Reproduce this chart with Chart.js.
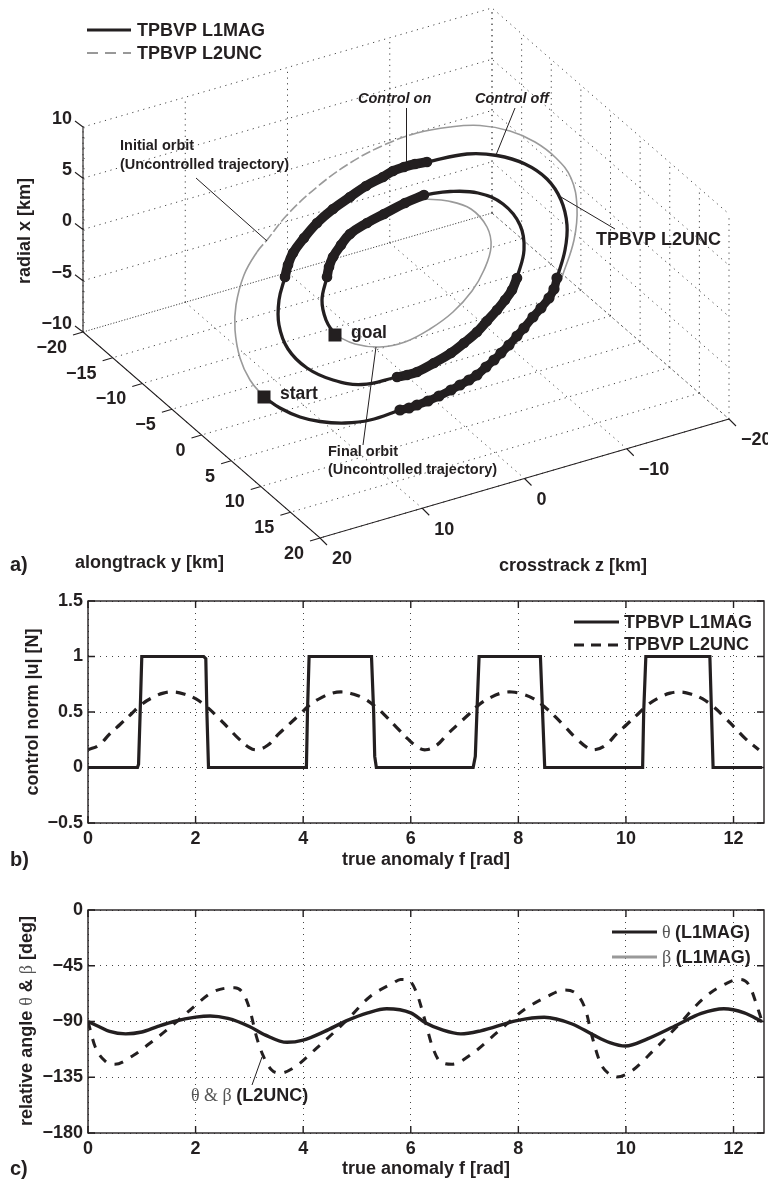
<!DOCTYPE html>
<html>
<head>
<meta charset="utf-8">
<title>Relative orbit transfer</title>
<script src="https://cdn.jsdelivr.net/npm/chart.js@4"></script>
<style>
  html, body { margin: 0; padding: 0; background: #fff; overflow: hidden; }
  canvas { position: absolute; left: 0; }
</style>
</head>
<body>
<canvas id="orbit" width="768" height="590" style="top:0"></canvas>
<canvas id="control" width="768" height="290" style="top:590px"></canvas>
<canvas id="angle" width="768" height="302" style="top:880px"></canvas>
<script>
/* ═══════════════════════════════════════════════════════════
   DATA - all values
   ═══════════════════════════════════════════════════════════ */

// Panel a axes
const radialTicks = [10, 5, 0, -5, -10];
const alongTicks = [-20, -15, -10, -5, 0, 5, 10, 15, 20];
const crossTicks = [20, 10, 0, -10, -20];

// Panel a orbits, as [horizontal, vertical] in the view plane of the 3D box
const initialOrbit = [[264,397],[250,380],[240,358],[235,330],[236,305],[244,275],[257,252],[267,240],[287,215],[317,187],[350,163],[384,145],[417,133],[450,127],[480,125.5],[510,131],[535,142],[556,158],[571,178],[577,207],[574,240],[562,277]];
const initialDashedFrom = 6;
const initialDashedTo = 12;
const finalOrbit = [[335,335],[355,344],[380,347],[405,342],[430,329],[453,312],[472,291],[484,270],[491,247],[487,227],[471,209],[448,201],[424,199]];

const coastStart = [[264,397],[280,408],[300,417],[320,421.5],[345,423],[370,420],[400,410]];
const burnOuterLower = [[400,410],[409,408],[417,405],[428,401],[439,396],[451,390],[460,385],[469,380],[477,375],[486,367],[494,360],[501,353],[509,345],[517,336],[524,328],[533,317],[541,308],[549,298],[554,289],[557,278]];
const coastOuterRight = [[557,278],[565,250],[567,225],[561,200],[547,179],[525,164],[497,155.5],[467,154],[427,162]];
const burnOuterUpper = [[427,162],[415,164],[404,167],[393,171],[383,177],[366,186],[350,197],[333,209],[317,223],[304,238],[293,253],[288,265],[285,277]];
const coastLeft = [[285,277],[279,300],[279,325],[288,349],[307,368],[333,380],[362,384.5],[397,377]];
const burnInnerLower = [[397,377],[407,375],[417,372],[434,363],[451,353],[464,343],[477,332],[487,321],[497,310],[505,300],[512,290],[517,278]];
const coastInnerRight = [[517,278],[524,250],[520,225],[503,204],[478,193],[450,191.5],[424,195]];
const burnInnerUpper = [[424,195],[405,203],[384,214],[367,223],[350,234],[341,245],[333,257],[329,267],[327,277]];
const coastGoal = [[327,277],[322,300],[326,320],[335,335]];
const orbitMarkers = [[264,397],[335,335]];

// Panel b
const controlTicksX = [0, 2, 4, 6, 8, 10, 12];
const l1Anomaly = [0,0.92,0.94,0.97,1.0,2.15,2.19,2.21,2.24,4.06,4.08,4.11,5.27,5.31,5.33,5.36,7.16,7.2,7.23,7.27,8.41,8.45,8.49,10.31,10.33,10.37,11.56,11.59,11.62,12.53];
const l1Control = [0,0,0.03,0.5,1,1,0.98,0.5,0,0,0.5,1,1,0.5,0.1,0,0,0.1,0.5,1,1,0.5,0,0,0.5,1,1,0.5,0,0];
const l2Anomaly = [0,0.2,0.4,0.6,0.8,1,1.2,1.4,1.6,1.8,2,2.2,2.4,2.6,2.8,3,3.14,3.34,3.54,3.74,3.94,4.14,4.34,4.54,4.74,4.94,5.14,5.34,5.54,5.74,5.94,6.14,6.28,6.48,6.68,6.88,7.08,7.28,7.48,7.68,7.88,8.08,8.28,8.48,8.68,8.88,9.08,9.28,9.42,9.62,9.82,10.02,10.22,10.42,10.62,10.82,11.02,11.22,11.42,11.62,11.82,12.02,12.22,12.47];
const l2Control = [0.16,0.2,0.3,0.39,0.48,0.57,0.63,0.67,0.68,0.66,0.62,0.55,0.46,0.36,0.26,0.18,0.16,0.2,0.3,0.39,0.48,0.57,0.63,0.67,0.68,0.66,0.62,0.55,0.46,0.36,0.26,0.18,0.16,0.2,0.3,0.39,0.48,0.57,0.63,0.67,0.68,0.66,0.62,0.55,0.46,0.36,0.26,0.18,0.16,0.2,0.3,0.39,0.48,0.57,0.63,0.67,0.68,0.66,0.62,0.55,0.46,0.36,0.26,0.16];

// Panel c
const thetaAnomaly = [0,0.2,0.4,0.7,1,1.3,1.6,2,2.27,2.6,3,3.3,3.7,4,4.4,4.8,5.2,5.55,6,6.27,6.6,6.93,7.3,7.97,8.48,9,9.4,9.7,9.99,10.4,10.95,11.4,11.82,12.2,12.53];
const thetaL1 = [-90,-94,-98,-100,-98.5,-94,-90,-86.5,-85.5,-87.5,-94,-101,-106.8,-105,-98,-89.5,-83,-79.7,-83,-91,-97,-100,-97.5,-89.3,-86.6,-92,-101,-107,-109.8,-104,-92.8,-83.5,-79.7,-83,-90];
const thetaL2Anomaly = [0,0.13,0.32,0.5,0.84,1.15,1.46,1.9,2.33,2.73,2.88,3.01,3.13,3.26,3.41,3.57,3.82,4.25,4.81,5.24,5.67,5.81,5.97,6.11,6.27,6.4,6.55,6.77,7.11,7.6,8.1,8.53,8.85,9.06,9.25,9.37,9.53,9.71,9.83,10.09,10.52,10.95,11.45,11.88,12.1,12.29,12.47,12.53];
const thetaL2 = [-90,-110,-122,-124.5,-117.5,-107.6,-97,-80.7,-66,-62.7,-67,-80.7,-102,-118,-129,-131.7,-127.5,-111.5,-89,-70,-59,-56,-57,-67,-90,-110,-122.5,-124.5,-117,-99,-80.7,-70,-64.6,-67,-80.7,-102,-124,-133,-134.8,-130.5,-113,-94,-71,-59,-56,-60.7,-82,-90];

const INK = '#231f20';
const SANS = '"Liberation Sans", Arial, sans-serif';
const SERIF = '"Liberation Serif", "Times New Roman", serif';
const BOLD = `bold 18px ${SANS}`;
const NOTE = `bold 14.5px ${SANS}`;
const GREEK = `18px ${SERIF}`;

Chart.defaults.animation = false;
Chart.defaults.devicePixelRatio = 1;
Chart.defaults.color = INK;

/* ═══════════════════════════════════════════════════════════
   HELPERS
   ═══════════════════════════════════════════════════════════ */

function zip(xs, ys) {
  return xs.map((x, i) => ({ x, y: ys[i] }));
}

function pairs(list) {
  return list.map(p => ({ x: p[0], y: p[1] }));
}

function minusSign(value) {
  return String(value).replace('-', '\u2212');
}

/**
 * View-plane position of a point of the 3D box (radial, alongtrack, crosstrack in km)
 */
function project(radial, along, cross) {
  const a = (along + 20) / 40;
  const c = (20 - cross) / 40;
  return {
    x: 83 + a * 237 + c * 409,
    y: 332 + a * 206 - c * 119 - (radial + 10) / 20 * 205,
  };
}

// Several polylines in one dataset, NaN breaks the line
function polylines(lines) {
  const out = [];
  lines.forEach(line => {
    out.push(...line, { x: NaN, y: NaN });
  });
  return out;
}

/**
 * Draw one line of text made of runs with different fonts
 */
function drawRuns(ctx, x, y, runs, opts = {}) {
  ctx.save();
  ctx.translate(x, y);
  if (opts.rotate) ctx.rotate(opts.rotate);
  ctx.textBaseline = 'middle';
  ctx.textAlign = 'left';
  let total = 0;
  runs.forEach(r => {
    ctx.font = r.font;
    total += ctx.measureText(r.text).width;
  });
  let pen = opts.center ? -total / 2 : 0;
  if (opts.right) pen = -total;
  runs.forEach(r => {
    ctx.font = r.font;
    ctx.fillStyle = r.color || INK;
    ctx.fillText(r.text, pen, 0);
    pen += ctx.measureText(r.text).width;
  });
  ctx.restore();
}

function drawKey(ctx, x1, x2, y, style) {
  ctx.save();
  ctx.strokeStyle = style.color || INK;
  ctx.lineWidth = style.width;
  ctx.setLineDash(style.dash || []);
  ctx.beginPath();
  ctx.moveTo(x1, y);
  ctx.lineTo(x2, y);
  ctx.stroke();
  ctx.restore();
}

// Box and inward ticks of the two MATLAB style panels
const framePlugin = {
  id: 'frame',
  afterDatasetsDraw(chart) {
    const { ctx, chartArea: a, scales } = chart;
    ctx.save();
    ctx.strokeStyle = INK;
    ctx.lineWidth = 1.4;
    ctx.strokeRect(a.left, a.top, a.right - a.left, a.bottom - a.top);
    ctx.beginPath();
    scales.x.ticks.forEach(t => {
      const px = scales.x.getPixelForValue(t.value);
      ctx.moveTo(px, a.bottom); ctx.lineTo(px, a.bottom - 7);
      ctx.moveTo(px, a.top); ctx.lineTo(px, a.top + 7);
    });
    scales.y.ticks.forEach(t => {
      const py = scales.y.getPixelForValue(t.value);
      ctx.moveTo(a.left, py); ctx.lineTo(a.left + 7, py);
      ctx.moveTo(a.right, py); ctx.lineTo(a.right - 7, py);
    });
    ctx.stroke();
    ctx.restore();
  },
};

/* ═══════════════════════════════════════════════════════════
   PANEL A - 3D trajectory
   ═══════════════════════════════════════════════════════════ */

function orbitDatasets() {
  const grid = [];
  radialTicks.forEach(x => grid.push([project(x, -20, 20), project(x, -20, -20), project(x, 20, -20)]));
  crossTicks.forEach(z => {
    grid.push([project(-10, -20, z), project(10, -20, z)]);
    grid.push([project(-10, -20, z), project(-10, 20, z)]);
  });
  alongTicks.forEach(y => {
    grid.push([project(-10, y, -20), project(10, y, -20)]);
    grid.push([project(-10, y, -20), project(-10, y, 20)]);
  });

  const axes = [
    [project(10, -20, 20), project(-10, -20, 20), project(-10, 20, 20), project(-10, 20, -20)],
  ];
  radialTicks.forEach(x => {
    const p = project(x, -20, 20);
    axes.push([p, { x: p.x - 8, y: p.y - 6 }]);
  });
  alongTicks.forEach(y => {
    const p = project(-10, y, 20);
    axes.push([p, { x: p.x - 10, y: p.y + 3 }]);
  });
  crossTicks.forEach(z => {
    const p = project(-10, 20, z);
    axes.push([p, { x: p.x + 7, y: p.y + 7 }]);
  });

  const minor = [];
  for (let x = -10; x <= 10; x++) {
    const p = project(x, -20, 20);
    minor.push([p, { x: p.x + 2, y: p.y + 1 }]);
  }

  const leaders = [
    [{ x: 196, y: 178 }, { x: 267, y: 241 }],
    [{ x: 406.5, y: 108 }, { x: 406.5, y: 163 }],
    [{ x: 515, y: 108 }, { x: 496, y: 155 }],
    [{ x: 615, y: 229 }, { x: 561, y: 197 }],
    [{ x: 376, y: 347 }, { x: 363, y: 445 }],
  ];

  const thin = { type: 'scatter', showLine: true, pointRadius: 0, borderColor: INK, borderWidth: 3.3, tension: 0.4, borderCapStyle: 'round' };
  const burn = { type: 'scatter', showLine: true, pointRadius: 5.3, pointBackgroundColor: INK, pointBorderWidth: 0, borderColor: INK, borderWidth: 9.5, tension: 0.4, borderCapStyle: 'round' };
  const grey = { type: 'scatter', showLine: true, pointRadius: 0, borderColor: '#9a9a9a', borderWidth: 1.6, tension: 0.4 };
  const straight = { type: 'scatter', showLine: true, pointRadius: 0, tension: 0, spanGaps: false };

  return [
    { ...straight, label: 'markers', data: pairs(orbitMarkers), showLine: false, pointStyle: 'rect', pointRadius: 9.2, pointBackgroundColor: INK, pointBorderWidth: 0 },
    { ...thin, label: 'coast', data: pairs(coastStart) },
    { ...burn, label: 'burn', data: pairs(burnOuterLower), borderWidth: 8.5, pointRadius: 5.6 },
    { ...thin, label: 'coast', data: pairs(coastOuterRight) },
    { ...burn, label: 'burn', data: pairs(burnOuterUpper) },
    { ...thin, label: 'coast', data: pairs(coastLeft) },
    { ...burn, label: 'burn', data: pairs(burnInnerLower) },
    { ...thin, label: 'coast', data: pairs(coastInnerRight) },
    { ...burn, label: 'burn', data: pairs(burnInnerUpper) },
    { ...thin, label: 'coast', data: pairs(coastGoal) },
    { ...straight, label: 'leaders', data: polylines(leaders), borderColor: INK, borderWidth: 1 },
    {
      ...grey,
      label: 'initial',
      data: pairs(initialOrbit),
      segment: {
        borderDash: ctx => (ctx.p0DataIndex >= initialDashedFrom && ctx.p0DataIndex < initialDashedTo ? [10, 3] : undefined),
      },
    },
    { ...grey, label: 'final', data: pairs(finalOrbit) },
    { ...straight, label: 'axes', data: polylines(axes), borderColor: INK, borderWidth: 1.1 },
    { ...straight, label: 'minor', data: polylines(minor), borderColor: '#666', borderWidth: 0.7 },
    { ...straight, label: 'grid', data: polylines(grid), borderColor: '#444', borderWidth: 1, borderDash: [1.2, 4.5] },
  ];
}

const orbitText = {
  id: 'orbitText',
  afterDatasetsDraw(chart) {
    const ctx = chart.ctx;
    const put = (text, x, y, font) => drawRuns(ctx, x, y, [{ text, font: font || BOLD }]);

    drawKey(ctx, 87, 131, 30, { width: 3.2 });
    drawKey(ctx, 87, 131, 53, { width: 1, dash: [11, 7], color: '#333' });
    put('TPBVP L1MAG', 137, 31);
    put('TPBVP L2UNC', 137, 54);

    radialTicks.forEach(x => {
      const p = project(x, -20, 20);
      drawRuns(ctx, p.x - 11, p.y - 8, [{ text: minusSign(x), font: BOLD }], { right: true });
    });
    alongTicks.forEach(y => {
      const p = project(-10, y, 20);
      drawRuns(ctx, p.x - 16, p.y + 16, [{ text: minusSign(y), font: BOLD }], { right: true });
    });
    crossTicks.forEach(z => {
      const p = project(-10, 20, z);
      put(minusSign(z), p.x + 12, p.y + 21.5);
    });

    drawRuns(ctx, 25, 231, [{ text: 'radial x [km]', font: BOLD }], { rotate: -Math.PI / 2, center: true });
    put('alongtrack y [km]', 75, 563);
    put('crosstrack z [km]', 499, 566);
    put('a)', 10, 565, `bold 20px ${SANS}`);

    put('Initial orbit', 120, 146, NOTE);
    put('(Uncontrolled trajectory)', 120, 165, NOTE);
    put('Final orbit', 328, 452, NOTE);
    put('(Uncontrolled trajectory)', 328, 470, NOTE);
    put('Control on', 358, 99, `italic bold 14.5px ${SANS}`);
    put('Control off', 475, 99, `italic bold 14.5px ${SANS}`);
    put('TPBVP L2UNC', 596, 240);
    put('start', 280, 394, `bold 17.5px ${SANS}`);
    put('goal', 351, 333, `bold 17.5px ${SANS}`);
  },
};

new Chart(document.getElementById('orbit'), {
  type: 'scatter',
  data: { datasets: orbitDatasets() },
  options: {
    responsive: false,
    layout: { padding: 0, autoPadding: false },
    plugins: { legend: { display: false }, tooltip: { enabled: false } },
    scales: {
      x: { type: 'linear', display: false, min: 0, max: 768 },
      y: { type: 'linear', display: false, min: 0, max: 590, reverse: true },
    },
  },
  plugins: [orbitText],
});

/* ═══════════════════════════════════════════════════════════
   PANELS B AND C - line charts against true anomaly
   ═══════════════════════════════════════════════════════════ */

function panelOptions(cfg) {
  const tickFont = { family: SANS, size: 18, weight: 'bold' };
  const grid = { color: '#444', lineWidth: 1, drawTicks: false };
  return {
    responsive: false,
    layout: { padding: { top: cfg.top, right: 4, left: 0, bottom: 0 }, autoPadding: false },
    plugins: { legend: { display: false }, tooltip: { enabled: false } },
    elements: { point: { radius: 0 } },
    scales: {
      x: {
        type: 'linear',
        min: 0,
        max: 4 * Math.PI,
        grid,
        border: { display: false, dash: [1, 5] },
        afterFit: s => {
          s.height = cfg.xHeight;
          s.paddingLeft = 0;
          s.paddingRight = 0;
        },
        afterBuildTicks: s => { s.ticks = controlTicksX.map(value => ({ value })); },
        ticks: { font: tickFont, color: INK, padding: 5, maxRotation: 0, autoSkip: false, callback: minusSign },
        title: { display: true, text: 'true anomaly f [rad]', font: tickFont, color: INK, padding: { top: 0, bottom: cfg.titlePad } },
      },
      y: {
        min: cfg.min,
        max: cfg.max,
        grid,
        border: { display: false, dash: [1, 5] },
        afterFit: s => {
          s.width = 88;
          // the top label may overhang, keep the plot box where it is
          s.paddingTop = 0;
          s.paddingBottom = 0;
        },
        ticks: { font: tickFont, color: INK, padding: 5, stepSize: cfg.step, callback: minusSign },
        title: cfg.yTitle
          ? { display: true, text: cfg.yTitle, font: tickFont, color: INK, padding: { top: 22, bottom: 0 } }
          : { display: false },
      },
    },
  };
}

new Chart(document.getElementById('control'), {
  type: 'line',
  data: {
    datasets: [
      { label: 'TPBVP L1MAG', data: zip(l1Anomaly, l1Control), borderColor: INK, borderWidth: 3.2, tension: 0 },
      { label: 'TPBVP L2UNC', data: zip(l2Anomaly, l2Control), borderColor: INK, borderWidth: 3.2, borderDash: [10, 8], tension: 0.4 },
    ],
  },
  options: panelOptions({ top: 11, xHeight: 57, titlePad: 9, min: -0.5, max: 1.5, step: 0.5, yTitle: 'control norm |u| [N]' }),
  plugins: [framePlugin, {
    id: 'controlText',
    afterDatasetsDraw(chart) {
      const ctx = chart.ctx;
      drawKey(ctx, 574, 619, 32, { width: 3.2 });
      drawKey(ctx, 574, 619, 55, { width: 3.2, dash: [10, 7] });
      drawRuns(ctx, 624, 33, [{ text: 'TPBVP L1MAG', font: BOLD }]);
      drawRuns(ctx, 624, 55, [{ text: 'TPBVP L2UNC', font: BOLD }]);
      drawRuns(ctx, 10, 270, [{ text: 'b)', font: `bold 20px ${SANS}` }]);
    },
  }],
});

new Chart(document.getElementById('angle'), {
  type: 'line',
  data: {
    datasets: [
      { label: 'theta L1MAG', data: zip(thetaAnomaly, thetaL1), borderColor: INK, borderWidth: 3.4, cubicInterpolationMode: 'monotone' },
      { label: 'theta beta L2UNC', data: zip(thetaL2Anomaly, thetaL2), borderColor: INK, borderWidth: 3, borderDash: [9, 9], cubicInterpolationMode: 'monotone' },
    ],
  },
  options: panelOptions({ top: 30, xHeight: 49, titlePad: 2, min: -180, max: 0, step: 45 }),
  plugins: [framePlugin, {
    id: 'angleText',
    afterDatasetsDraw(chart) {
      const ctx = chart.ctx;
      drawKey(ctx, 612, 657, 52, { width: 3.2 });
      drawKey(ctx, 612, 657, 77, { width: 3.2, color: '#999' });
      drawRuns(ctx, 662, 53, [{ text: '\u03b8 ', font: GREEK, color: '#555' }, { text: '(L1MAG)', font: BOLD }]);
      drawRuns(ctx, 662, 78, [{ text: '\u03b2 ', font: GREEK, color: '#555' }, { text: '(L1MAG)', font: BOLD }]);

      ctx.save();
      ctx.strokeStyle = INK;
      ctx.lineWidth = 1;
      ctx.beginPath();
      ctx.moveTo(252, 205);
      ctx.lineTo(262, 177);
      ctx.stroke();
      ctx.restore();
      drawRuns(ctx, 191, 216, [{ text: '\u03b8 & \u03b2 ', font: GREEK, color: '#555' }, { text: '(L2UNC)', font: BOLD }]);

      drawRuns(ctx, 27, 141, [
        { text: 'relative angle ', font: BOLD },
        { text: '\u03b8', font: GREEK, color: '#555' },
        { text: ' & ', font: BOLD },
        { text: '\u03b2', font: GREEK, color: '#555' },
        { text: ' [deg]', font: BOLD },
      ], { rotate: -Math.PI / 2, center: true });
      drawRuns(ctx, 10, 289, [{ text: 'c)', font: `bold 20px ${SANS}` }]);
    },
  }],
});
</script>
</body>
</html>
